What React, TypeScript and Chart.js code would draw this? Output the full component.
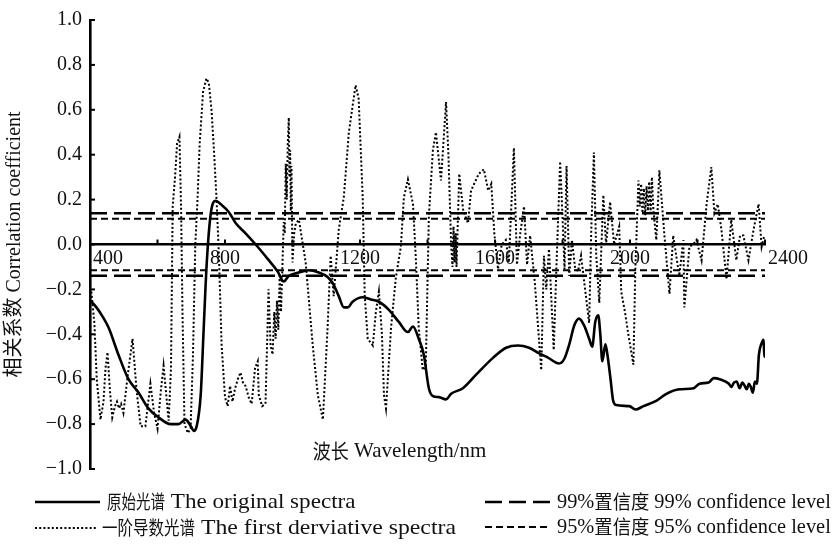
import React, { useEffect, useRef } from "react";
import { Chart, registerables } from "chart.js";

Chart.register(...registerables);

// Wavelength axis (nm) and correlation axis ranges
const wavelengthRange = [400, 2400];
const wavelengthLabels = [400, 800, 1200, 1600, 2000, 2400];
const correlationRange = [-1, 1];

// Correlation of the original spectra with the soil property
const originalWavelengths = [
  400, 404, 419, 437, 455, 484, 514, 544, 573, 603, 639, 662, 683, 699, 707, 716, 728, 737, 746, 758,
  773, 787, 811, 832, 861, 891, 927, 956, 974, 989, 1018, 1048, 1078, 1104, 1122, 1137, 1152, 1164,
  1178, 1208, 1232, 1256, 1285, 1315, 1342, 1357, 1374, 1389, 1404, 1416, 1434, 1455, 1470, 1505,
  1544, 1594, 1633, 1668, 1701, 1731, 1758, 1790, 1805, 1820, 1835, 1849, 1864, 1879, 1888, 1897,
  1906, 1912, 1918, 1927, 1933, 1942, 1950, 1959, 1998, 2016, 2040, 2079, 2108, 2147, 2189, 2206,
  2233, 2248, 2266, 2293, 2300, 2308, 2316, 2325, 2333, 2340, 2346, 2352, 2358, 2364, 2370, 2376,
  2382, 2390, 2396, 2398, 2400,
];
const originalValues = [
  -0.25, -0.255, -0.28, -0.32, -0.37, -0.49, -0.6, -0.66, -0.73, -0.77, -0.8, -0.8, -0.78, -0.81,
  -0.83, -0.81, -0.67, -0.37, -0.08, 0.14, 0.195, 0.18, 0.145, 0.095, 0.05, 0.0, -0.065, -0.12,
  -0.165, -0.14, -0.125, -0.115, -0.125, -0.145, -0.18, -0.23, -0.28, -0.28, -0.255, -0.235, -0.245,
  -0.255, -0.29, -0.345, -0.39, -0.365, -0.42, -0.49, -0.64, -0.675, -0.68, -0.69, -0.665, -0.64,
  -0.58, -0.505, -0.46, -0.45, -0.46, -0.485, -0.505, -0.53, -0.51, -0.445, -0.36, -0.33, -0.36,
  -0.42, -0.455, -0.345, -0.315, -0.4, -0.52, -0.445, -0.49, -0.595, -0.695, -0.715, -0.72, -0.735,
  -0.72, -0.695, -0.665, -0.645, -0.64, -0.62, -0.615, -0.595, -0.6, -0.62, -0.635, -0.615, -0.61,
  -0.64, -0.615, -0.63, -0.645, -0.62, -0.635, -0.66, -0.61, -0.62, -0.49, -0.44, -0.425, -0.5, -0.45,
];

// Correlation of the first derivative spectra
const derivativeWavelengths = [
  404, 413, 420, 431, 440, 446, 452, 459, 466, 474, 480, 486, 492, 499, 512, 526, 538, 550, 564, 579,
  590, 600, 610, 618, 633, 640, 645, 652, 658, 665, 670, 674, 680, 690, 698, 705, 712, 718, 725, 735,
  745, 752, 760, 768, 775, 782, 790, 800, 808, 815, 822, 830, 838, 846, 854, 861, 870, 879, 889, 897,
  900, 910, 920, 929, 935, 941, 946, 950, 954, 958, 962, 966, 970, 974, 977, 980, 983, 986, 989, 991,
  993, 995, 997, 1000, 1005, 1010, 1019, 1039, 1060, 1075, 1090, 1104, 1113, 1122, 1137, 1152, 1167,
  1187, 1196, 1208, 1214, 1223, 1238, 1247, 1256, 1265, 1271, 1277, 1292, 1306, 1321, 1330, 1342,
  1357, 1366, 1374, 1386, 1395, 1404, 1416, 1425, 1440, 1455, 1462, 1470, 1474, 1477, 1480, 1483,
  1486, 1494, 1506, 1520, 1529, 1552, 1567, 1580, 1589, 1598, 1609, 1620, 1632, 1641, 1656, 1665,
  1675, 1686, 1695, 1704, 1718, 1737, 1745, 1752, 1760, 1774, 1782, 1793, 1800, 1806, 1812, 1820,
  1828, 1837, 1846, 1855, 1867, 1879, 1885, 1893, 1900, 1909, 1921, 1929, 1941, 1953, 1968, 1974,
  1985, 1995, 2010, 2016, 2025, 2029, 2033, 2037, 2041, 2045, 2049, 2053, 2057, 2061, 2065, 2069,
  2078, 2087, 2102, 2117, 2128, 2140, 2146, 2158, 2161, 2176, 2187, 2197, 2212, 2227, 2241, 2250,
  2260, 2271, 2286, 2300, 2315, 2326, 2336, 2351, 2366, 2381, 2390, 2398,
];
const derivativeValues = [
  -0.21, -0.35, -0.6, -0.78, -0.7, -0.55, -0.48, -0.65, -0.77, -0.72, -0.7, -0.73, -0.71, -0.75,
  -0.58, -0.42, -0.65, -0.81, -0.81, -0.62, -0.75, -0.82, -0.65, -0.54, -0.785, -0.55, 0.17, 0.3,
  0.45, 0.48, 0.15, -0.3, -0.8, -0.84, -0.82, -0.5, 0.0, 0.18, 0.45, 0.68, 0.74, 0.72, 0.6, 0.4, 0.2,
  -0.05, -0.45, -0.68, -0.72, -0.63, -0.7, -0.64, -0.6, -0.57, -0.62, -0.63, -0.68, -0.71, -0.55,
  -0.52, -0.67, -0.72, -0.71, -0.2, -0.45, -0.49, -0.3, -0.42, -0.25, -0.38, -0.14, -0.3, -0.1, 0.1,
  0.05, 0.36, 0.2, 0.45, 0.565, 0.3, 0.42, 0.15, 0.35, -0.08, 0.05, 0.095, 0.11, -0.08, -0.45, -0.67,
  -0.78, -0.37, -0.05, -0.23, 0.065, 0.21, 0.5, 0.71, 0.65, 0.21, -0.23, -0.42, -0.45, -0.3, -0.21,
  -0.4, -0.67, -0.73, -0.37, -0.15, -0.01, 0.21, 0.29, 0.18, -0.08, -0.37, -0.56, -0.54, 0.125, 0.42,
  0.5, 0.285, 0.635, 0.4, 0.0, -0.1, 0.08, -0.08, 0.05, -0.1, 0.315, 0.15, 0.095, 0.24, 0.315, 0.335,
  0.24, 0.27, 0.05, -0.11, 0.0, 0.02, -0.08, 0.43, -0.09, 0.05, 0.17, -0.09, 0.04, -0.17, -0.56, -0.05,
  -0.2, -0.02, -0.47, -0.1, 0.37, 0.125, -0.11, 0.35, -0.14, 0.02, -0.1, -0.12, -0.05, -0.2, -0.35,
  0.05, 0.41, -0.05, -0.26, 0.22, 0.0, 0.19, 0.0, 0.08, -0.21, -0.3, -0.4, -0.535, -0.1, 0.285, 0.17,
  0.27, 0.14, 0.25, 0.13, 0.26, 0.15, 0.28, 0.14, 0.3, 0.16, 0.02, 0.33, 0.04, -0.22, 0.04, -0.08,
  -0.14, 0.02, -0.28, -0.01, 0.0, 0.02, -0.07, 0.18, 0.345, 0.14, 0.18, 0.065, -0.155, 0.11, -0.07,
  0.04, 0.04, -0.07, 0.065, 0.18, -0.01, 0.04,
];

// Critical correlation coefficients
const level99 = 0.139;
const level95 = 0.115;

const legendTexts = [
  "原始光谱 The original spectra",
  "一阶导数光谱 The first derviative spectra",
  "99%置信度 99% confidence level",
  "95%置信度 95% confidence level",
];
const xTitle = "波长 Wavelength/nm";
const yTitle = "相关系数 Correlation coefficient";

const SERIF = '"Liberation Serif", "Times New Roman", serif';
const CJK_FONT = '"Noto Sans CJK SC", sans-serif';
const INK = "#111";

const toPoints = (xs: number[], ys: number[]) => xs.map((x, i) => ({ x, y: ys[i] }));
const flatLine = (v: number) => wavelengthRange.map((x) => ({ x, y: v }));

const isCjk = (ch: string) => /[\u3000-\u9fff\uff00-\uffef]/.test(ch);

// Draws mixed Chinese/Latin text; Chinese glyphs are set at a fixed pitch,
// Latin runs use a horizontal scale factor.
function drawMixed(
  ctx: CanvasRenderingContext2D,
  text: string,
  x: number,
  y: number,
  o: { latinSize: number; latinScale: number; cjkSize: number; cjkPitch: number }
) {
  const runs: { cjk: boolean; s: string }[] = [];
  for (const ch of text) {
    const c = isCjk(ch);
    if (runs.length && runs[runs.length - 1].cjk === c) runs[runs.length - 1].s += ch;
    else runs.push({ cjk: c, s: ch });
  }
  let cx = x;
  ctx.textAlign = "left";
  ctx.textBaseline = "middle";
  for (const run of runs) {
    if (run.cjk) {
      ctx.font = `${o.cjkSize}px ${CJK_FONT}`;
      for (const ch of run.s) {
        ctx.save();
        ctx.translate(cx, y);
        ctx.scale(o.cjkPitch / o.cjkSize, 1);
        ctx.fillText(ch, 0, 0);
        ctx.restore();
        cx += o.cjkPitch;
      }
    } else {
      ctx.font = `${o.latinSize}px ${SERIF}`;
      const w = ctx.measureText(run.s).width;
      ctx.save();
      ctx.translate(cx, y);
      ctx.scale(o.latinScale, 1);
      ctx.fillText(run.s, 0, 0);
      ctx.restore();
      cx += w * o.latinScale;
    }
  }
}

// Inward/upward tick marks, wavelength labels, the x title and the legend
const decorations = {
  id: "decorations",
  afterDatasetsDraw(chart: any) {
    const { ctx, chartArea, scales } = chart;
    const xs = scales.x;
    const ys = scales.y;
    const y0 = ys.getPixelForValue(0);
    ctx.save();
    ctx.strokeStyle = "#000";
    ctx.lineWidth = 2;
    ctx.setLineDash([]);
    for (const t of xs.ticks) {
      if (t.value <= wavelengthRange[0]) continue;
      const px = xs.getPixelForValue(t.value);
      ctx.beginPath();
      ctx.moveTo(px, y0);
      ctx.lineTo(px, y0 - 5);
      ctx.stroke();
    }
    for (const t of ys.ticks) {
      const py = ys.getPixelForValue(t.value);
      ctx.beginPath();
      ctx.moveTo(chartArea.left, py);
      ctx.lineTo(chartArea.left + 5, py);
      ctx.stroke();
    }

    ctx.fillStyle = INK;
    ctx.font = `20px ${SERIF}`;
    ctx.textBaseline = "middle";
    wavelengthLabels.forEach((w, i) => {
      const px = xs.getPixelForValue(w);
      const edge = i === 0 || i === wavelengthLabels.length - 1;
      ctx.textAlign = edge ? "left" : "center";
      ctx.fillText(String(w), edge ? px + 3 : px, y0 + 14);
    });

    drawMixed(ctx, xTitle, chartArea.left + 0.33 * (chartArea.right - chartArea.left), ys.getPixelForValue(-0.92), {
      latinSize: 21,
      latinScale: 1.0,
      cjkSize: 20,
      cjkPitch: 18,
    });

    const ds = chart.data.datasets;
    const items = [
      { d: ds[0], text: legendTexts[0], x1: 35, x2: 100, y: 502, tx: 107, pitch: 14.5, scale: 1.1 },
      { d: ds[1], text: legendTexts[1], x1: 35, x2: 97, y: 528, tx: 102, pitch: 15.5, scale: 1.13 },
      { d: ds[2], text: legendTexts[2], x1: 485, x2: 550, y: 502, tx: 557, pitch: 18.3, scale: 0.97 },
      { d: ds[4], text: legendTexts[3], x1: 485, x2: 550, y: 527, tx: 557, pitch: 18.3, scale: 0.97 },
    ];
    for (const it of items) {
      ctx.save();
      ctx.strokeStyle = it.d.borderColor;
      ctx.lineWidth = it.d.borderWidth;
      ctx.setLineDash(it.d.borderDash || []);
      ctx.beginPath();
      ctx.moveTo(it.x1, it.y);
      ctx.lineTo(it.x2, it.y);
      ctx.stroke();
      ctx.restore();
      ctx.fillStyle = INK;
      drawMixed(ctx, it.text, it.tx, it.y, {
        latinSize: 21,
        latinScale: it.scale,
        cjkSize: 19,
        cjkPitch: it.pitch,
      });
    }
    ctx.restore();
  },
};

export default function App() {
  const canvasRef = useRef<HTMLCanvasElement | null>(null);

  useEffect(() => {
    const canvas = canvasRef.current;
    if (!canvas) return;
    const chart = new Chart(canvas, {
      type: "line",
      data: {
        datasets: [
          {
            label: legendTexts[0],
            data: toPoints(originalWavelengths, originalValues),
            borderColor: "#000",
            borderWidth: 2.6,
            pointRadius: 0,
            cubicInterpolationMode: "monotone",
            fill: false,
          },
          {
            label: legendTexts[1],
            data: toPoints(derivativeWavelengths, derivativeValues),
            borderColor: "#000",
            borderWidth: 2,
            borderDash: [2, 2.2],
            pointRadius: 0,
            tension: 0,
            fill: false,
          },
          {
            label: legendTexts[2],
            data: flatLine(level99),
            borderColor: "#000",
            borderWidth: 2.6,
            borderDash: [17, 7],
            pointRadius: 0,
            fill: false,
          },
          {
            label: legendTexts[2],
            data: flatLine(-level99),
            borderColor: "#000",
            borderWidth: 2.6,
            borderDash: [17, 7],
            pointRadius: 0,
            fill: false,
          },
          {
            label: legendTexts[3],
            data: flatLine(level95),
            borderColor: "#000",
            borderWidth: 2,
            borderDash: [7, 4],
            pointRadius: 0,
            fill: false,
          },
          {
            label: legendTexts[3],
            data: flatLine(-level95),
            borderColor: "#000",
            borderWidth: 2,
            borderDash: [7, 4],
            pointRadius: 0,
            fill: false,
          },
        ],
      },
      options: {
        responsive: false,
        animation: false,
        devicePixelRatio: 1,
        events: [],
        layout: { padding: { top: 14, right: 72, bottom: 76, left: 0 } },
        plugins: {
          legend: { display: false },
          tooltip: { enabled: false },
        },
        scales: {
          x: {
            type: "linear",
            position: { y: 0 },
            min: wavelengthRange[0],
            max: wavelengthRange[1],
            ticks: { display: false, stepSize: 200 },
            grid: { drawOnChartArea: false, drawTicks: false },
            border: { display: true, color: "#000", width: 2.6 },
          },
          y: {
            type: "linear",
            position: "left",
            min: correlationRange[0],
            max: correlationRange[1],
            afterFit: (scale: any) => {
              scale.width = 90;
            },
            ticks: {
              stepSize: 0.2,
              padding: 8,
              color: INK,
              font: { family: SERIF, size: 20 },
              callback: (v: any) => {
                const n = Number(v);
                if (Math.abs(n) < 1e-9) return "0.0";
                return n < 0 ? "\u2212" + Math.abs(n).toFixed(1) : n.toFixed(1);
              },
            },
            grid: { drawOnChartArea: false, drawTicks: false },
            border: { display: true, color: "#000", width: 2.6 },
            title: {
              display: true,
              text: yTitle,
              color: INK,
              font: { family: `${SERIF.split(",")[0]}, ${CJK_FONT}`, size: 20 },
              padding: { top: 3, bottom: 0 },
            },
          },
        },
      },
      plugins: [decorations],
    } as any);
    return () => chart.destroy();
  }, []);

  return (
    <div style={{ position: "absolute", left: 0, top: 0, width: 837, height: 545, background: "#fff" }}>
      <canvas ref={canvasRef} width={837} height={545} style={{ display: "block" }} />
    </div>
  );
}
